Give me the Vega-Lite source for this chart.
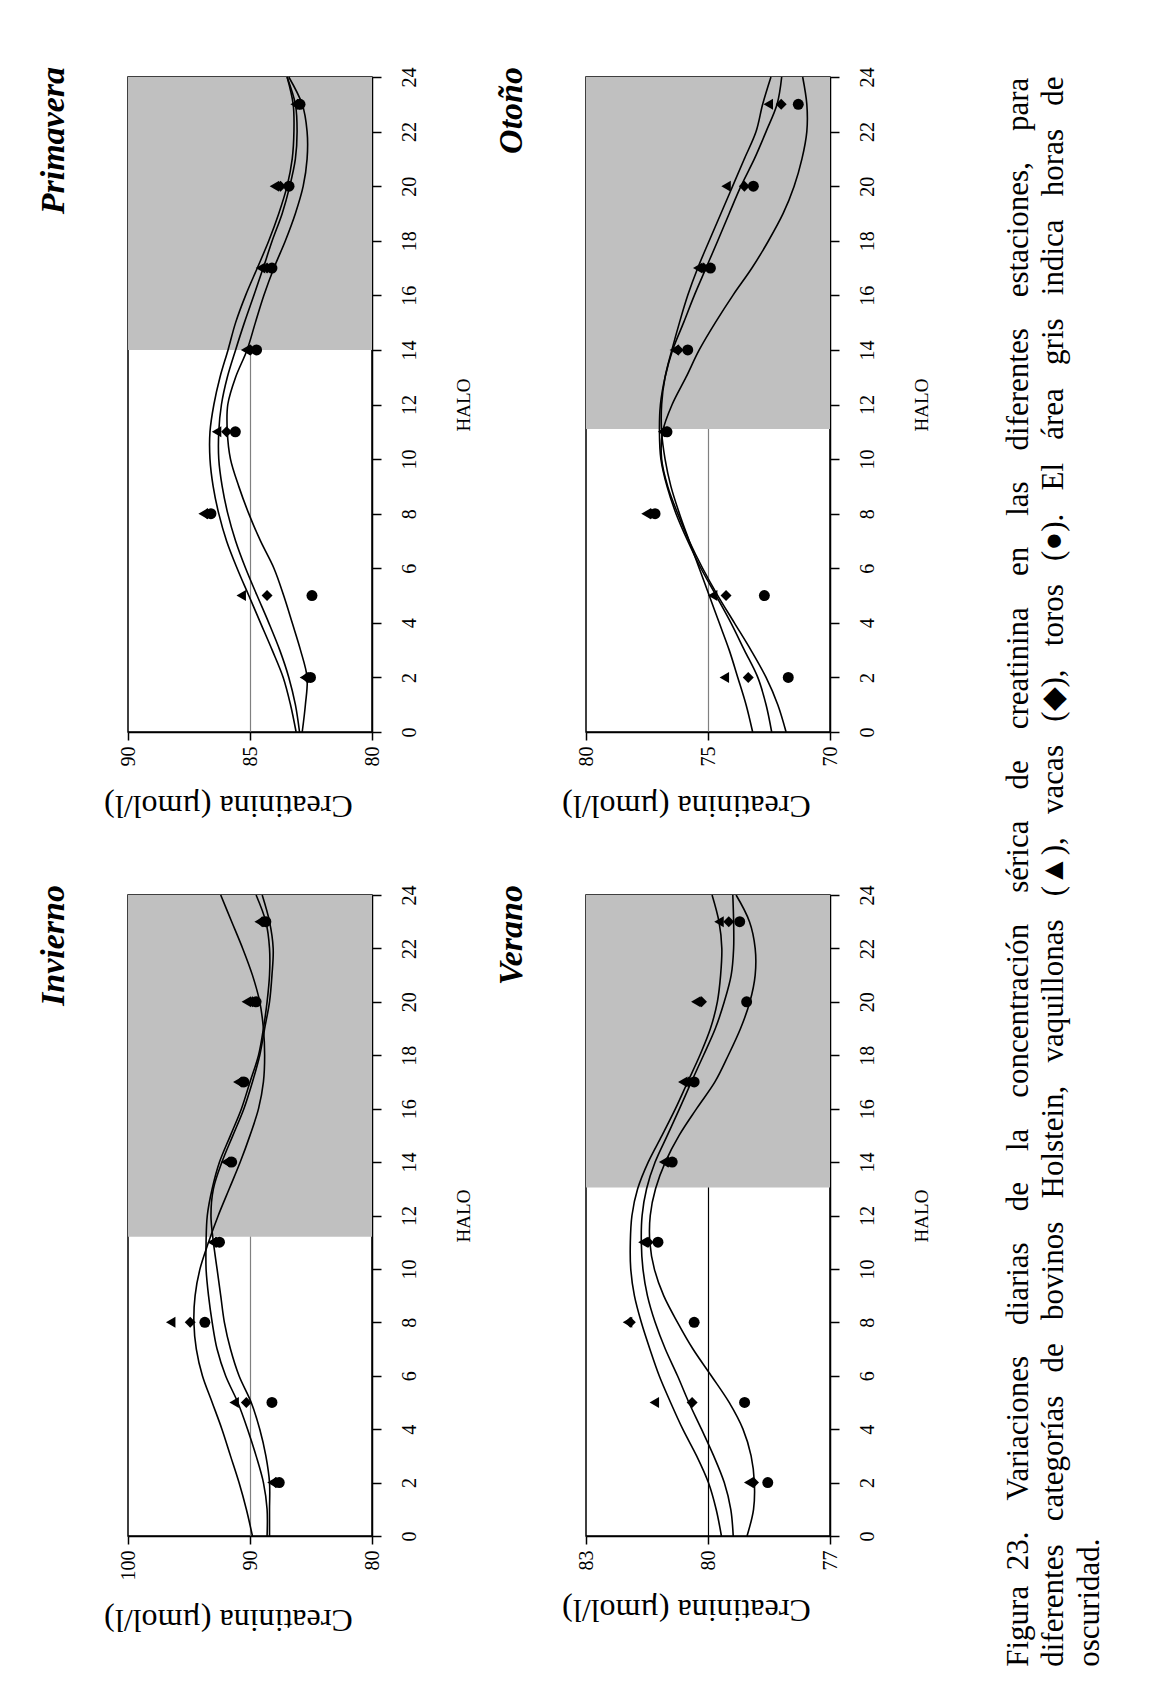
{
"$schema": "https://vega.github.io/schema/vega-lite/v6.json",
"background": "white",
"padding": {"left": 35, "top": 66, "right": 5, "bottom": 5},
"config": {"view": {"stroke": "black", "strokeWidth": 1.5}, "font": "Liberation Serif",
 "axisX": {"labelAngle": 270, "titleAngle": 180, "titleBaseline": "bottom", "grid": true, "gridWidth": 1.2, "zindex": 1, "tickSize": 8, "tickColor": "black", "tickWidth": 1.5, "domainColor": "black", "domainWidth": 1.5, "labelFont": "Liberation Serif", "labelFontSize": 20, "labelColor": "black", "labelPadding": 6, "titleFont": "Liberation Serif", "titleFontSize": 32, "titleFontWeight": "normal", "titleColor": "black", "titlePadding": 22},
 "axisY": {"labelAngle": 270, "titleAngle": 270, "grid": false, "tickSize": 9, "tickColor": "black", "tickWidth": 1.5, "domainColor": "black", "domainWidth": 1.5, "labelFont": "Liberation Serif", "labelFontSize": 20, "labelColor": "black", "labelPadding": 18, "titleFont": "Liberation Serif", "titleFontSize": 19, "titleFontWeight": "normal", "titleColor": "black", "titlePadding": 54}
},
"title": {"text": ["Figura\u00a0\u00a023.\u00a0\u00a0\u00a0\u00a0Variaciones\u00a0\u00a0\u00a0\u00a0diarias\u00a0\u00a0\u00a0\u00a0de\u00a0\u00a0\u00a0\u00a0la\u00a0\u00a0\u00a0\u00a0concentración\u00a0\u00a0\u00a0\u00a0sérica\u00a0\u00a0\u00a0\u00a0de\u00a0\u00a0\u00a0\u00a0creatinina\u00a0\u00a0\u00a0\u00a0en\u00a0\u00a0\u00a0\u00a0las\u00a0\u00a0\u00a0\u00a0diferentes\u00a0\u00a0\u00a0\u00a0estaciones,\u00a0\u00a0\u00a0\u00a0para", "diferentes\u00a0\u00a0\u00a0categorías\u00a0\u00a0\u00a0de\u00a0\u00a0\u00a0bovinos\u00a0\u00a0\u00a0Holstein,\u00a0\u00a0\u00a0vaquillonas\u00a0\u00a0\u00a0(▲),\u00a0\u00a0\u00a0vacas\u00a0\u00a0\u00a0(◆),\u00a0\u00a0\u00a0toros\u00a0\u00a0\u00a0(●).\u00a0\u00a0\u00a0El\u00a0\u00a0\u00a0área\u00a0\u00a0\u00a0gris\u00a0\u00a0\u00a0indica\u00a0\u00a0\u00a0horas\u00a0\u00a0\u00a0de", "oscuridad."], "orient": "right", "anchor": "end", "angle": 270, "align": "left", "baseline": "top", "font": "Liberation Serif", "fontSize": 31, "fontWeight": "normal", "color": "black", "lineHeight": 35.5, "offset": -30, "dx": -31},
"datasets": {
"dark": [
{"s": "Primavera", "h": 14, "h_end": 24, "v": 80, "v_end": 90},
{"s": "Invierno", "h": 11.2, "h_end": 24, "v": 80, "v_end": 100},
{"s": "Otoño", "h": 11.1, "h_end": 24, "v": 70, "v_end": 80},
{"s": "Verano", "h": 13.05, "h_end": 24, "v": 77, "v_end": 83}
],
"points": [
{"s":"Primavera","cat":"vaquillonas","h":2,"v":82.77},{"s":"Primavera","cat":"vacas","h":2,"v":82.66},{"s":"Primavera","cat":"toros","h":2,"v":82.52},
{"s":"Primavera","cat":"vaquillonas","h":5,"v":85.36},{"s":"Primavera","cat":"vacas","h":5,"v":84.3},{"s":"Primavera","cat":"toros","h":5,"v":82.46},
{"s":"Primavera","cat":"vaquillonas","h":8,"v":86.92},{"s":"Primavera","cat":"vacas","h":8,"v":86.75},{"s":"Primavera","cat":"toros","h":8,"v":86.6},
{"s":"Primavera","cat":"vaquillonas","h":11,"v":86.37},{"s":"Primavera","cat":"vacas","h":11,"v":85.96},{"s":"Primavera","cat":"toros","h":11,"v":85.6},
{"s":"Primavera","cat":"vaquillonas","h":14,"v":85.18},{"s":"Primavera","cat":"vacas","h":14,"v":84.98},{"s":"Primavera","cat":"toros","h":14,"v":84.73},
{"s":"Primavera","cat":"vaquillonas","h":17,"v":84.57},{"s":"Primavera","cat":"vacas","h":17,"v":84.3},{"s":"Primavera","cat":"toros","h":17,"v":84.1},
{"s":"Primavera","cat":"vaquillonas","h":20,"v":84.0},{"s":"Primavera","cat":"vacas","h":20,"v":83.75},{"s":"Primavera","cat":"toros","h":20,"v":83.4},
{"s":"Primavera","cat":"vaquillonas","h":23,"v":83.15},{"s":"Primavera","cat":"vacas","h":23,"v":83.05},{"s":"Primavera","cat":"toros","h":23,"v":82.95},
{"s":"Invierno","cat":"vaquillonas","h":2,"v":88.2},{"s":"Invierno","cat":"vacas","h":2,"v":87.9},{"s":"Invierno","cat":"toros","h":2,"v":87.6},
{"s":"Invierno","cat":"vaquillonas","h":5,"v":91.3},{"s":"Invierno","cat":"vacas","h":5,"v":90.3},{"s":"Invierno","cat":"toros","h":5,"v":88.2},
{"s":"Invierno","cat":"vaquillonas","h":8,"v":96.5},{"s":"Invierno","cat":"vacas","h":8,"v":94.9},{"s":"Invierno","cat":"toros","h":8,"v":93.7},
{"s":"Invierno","cat":"vaquillonas","h":11,"v":93.1},{"s":"Invierno","cat":"vacas","h":11,"v":92.8},{"s":"Invierno","cat":"toros","h":11,"v":92.5},
{"s":"Invierno","cat":"vaquillonas","h":14,"v":92.0},{"s":"Invierno","cat":"vacas","h":14,"v":91.7},{"s":"Invierno","cat":"toros","h":14,"v":91.5},
{"s":"Invierno","cat":"vaquillonas","h":17,"v":91.0},{"s":"Invierno","cat":"vacas","h":17,"v":90.7},{"s":"Invierno","cat":"toros","h":17,"v":90.5},
{"s":"Invierno","cat":"vaquillonas","h":20,"v":90.3},{"s":"Invierno","cat":"vacas","h":20,"v":89.8},{"s":"Invierno","cat":"toros","h":20,"v":89.5},
{"s":"Invierno","cat":"vaquillonas","h":23,"v":89.25},{"s":"Invierno","cat":"vacas","h":23,"v":89.0},{"s":"Invierno","cat":"toros","h":23,"v":88.7},
{"s":"Otoño","cat":"vaquillonas","h":2,"v":74.33},{"s":"Otoño","cat":"vacas","h":2,"v":73.35},{"s":"Otoño","cat":"toros","h":2,"v":71.71},
{"s":"Otoño","cat":"vaquillonas","h":5,"v":74.81},{"s":"Otoño","cat":"vacas","h":5,"v":74.26},{"s":"Otoño","cat":"toros","h":5,"v":72.69},
{"s":"Otoño","cat":"vaquillonas","h":8,"v":77.54},{"s":"Otoño","cat":"vacas","h":8,"v":77.34},{"s":"Otoño","cat":"toros","h":8,"v":77.17},
{"s":"Otoño","cat":"vaquillonas","h":11,"v":76.86},{"s":"Otoño","cat":"vacas","h":11,"v":76.79},{"s":"Otoño","cat":"toros","h":11,"v":76.68},
{"s":"Otoño","cat":"vaquillonas","h":14,"v":76.38},{"s":"Otoño","cat":"vacas","h":14,"v":76.22},{"s":"Otoño","cat":"toros","h":14,"v":75.83},
{"s":"Otoño","cat":"vaquillonas","h":17,"v":75.42},{"s":"Otoño","cat":"vacas","h":17,"v":75.18},{"s":"Otoño","cat":"toros","h":17,"v":74.9},
{"s":"Otoño","cat":"vaquillonas","h":20,"v":74.26},{"s":"Otoño","cat":"vacas","h":20,"v":73.51},{"s":"Otoño","cat":"toros","h":20,"v":73.14},
{"s":"Otoño","cat":"vaquillonas","h":23,"v":72.53},{"s":"Otoño","cat":"vacas","h":23,"v":72.0},{"s":"Otoño","cat":"toros","h":23,"v":71.3},
{"s":"Verano","cat":"vaquillonas","h":2,"v":79.0},{"s":"Verano","cat":"vacas","h":2,"v":78.88},{"s":"Verano","cat":"toros","h":2,"v":78.53},
{"s":"Verano","cat":"vaquillonas","h":5,"v":81.32},{"s":"Verano","cat":"vacas","h":5,"v":80.39},{"s":"Verano","cat":"toros","h":5,"v":79.1},
{"s":"Verano","cat":"vaquillonas","h":8,"v":81.98},{"s":"Verano","cat":"vacas","h":8,"v":81.91},{"s":"Verano","cat":"toros","h":8,"v":80.34},
{"s":"Verano","cat":"vaquillonas","h":11,"v":81.6},{"s":"Verano","cat":"vacas","h":11,"v":81.47},{"s":"Verano","cat":"toros","h":11,"v":81.23},
{"s":"Verano","cat":"vaquillonas","h":14,"v":81.09},{"s":"Verano","cat":"vacas","h":14,"v":80.98},{"s":"Verano","cat":"toros","h":14,"v":80.88},
{"s":"Verano","cat":"vaquillonas","h":17,"v":80.62},{"s":"Verano","cat":"vacas","h":17,"v":80.47},{"s":"Verano","cat":"toros","h":17,"v":80.34},
{"s":"Verano","cat":"vaquillonas","h":20,"v":80.3},{"s":"Verano","cat":"vacas","h":20,"v":80.16},{"s":"Verano","cat":"toros","h":20,"v":79.05},
{"s":"Verano","cat":"vaquillonas","h":23,"v":79.73},{"s":"Verano","cat":"vacas","h":23,"v":79.49},{"s":"Verano","cat":"toros","h":23,"v":79.22}
],
"curves": [
{"s":"Primavera","c":1,"h":0,"v":83.11},{"s":"Primavera","c":1,"h":1,"v":83.34},{"s":"Primavera","c":1,"h":2,"v":83.64},{"s":"Primavera","c":1,"h":3,"v":84.09},{"s":"Primavera","c":1,"h":4,"v":84.57},{"s":"Primavera","c":1,"h":5,"v":85.05},{"s":"Primavera","c":1,"h":6,"v":85.53},{"s":"Primavera","c":1,"h":7,"v":85.96},{"s":"Primavera","c":1,"h":8,"v":86.28},{"s":"Primavera","c":1,"h":9,"v":86.51},{"s":"Primavera","c":1,"h":10,"v":86.64},{"s":"Primavera","c":1,"h":11,"v":86.64},{"s":"Primavera","c":1,"h":12,"v":86.48},{"s":"Primavera","c":1,"h":13,"v":86.23},{"s":"Primavera","c":1,"h":14,"v":85.9},{"s":"Primavera","c":1,"h":15,"v":85.59},{"s":"Primavera","c":1,"h":16,"v":85.18},{"s":"Primavera","c":1,"h":17,"v":84.7},{"s":"Primavera","c":1,"h":18,"v":84.23},{"s":"Primavera","c":1,"h":19,"v":83.82},{"s":"Primavera","c":1,"h":20,"v":83.48},{"s":"Primavera","c":1,"h":21,"v":83.27},{"s":"Primavera","c":1,"h":22,"v":83.2},{"s":"Primavera","c":1,"h":23,"v":83.23},{"s":"Primavera","c":1,"h":24,"v":83.48},
{"s":"Primavera","c":2,"h":0,"v":82.97},{"s":"Primavera","c":2,"h":1,"v":83.14},{"s":"Primavera","c":2,"h":2,"v":83.41},{"s":"Primavera","c":2,"h":3,"v":83.78},{"s":"Primavera","c":2,"h":4,"v":84.23},{"s":"Primavera","c":2,"h":5,"v":84.71},{"s":"Primavera","c":2,"h":6,"v":85.18},{"s":"Primavera","c":2,"h":7,"v":85.59},{"s":"Primavera","c":2,"h":8,"v":85.91},{"s":"Primavera","c":2,"h":9,"v":86.14},{"s":"Primavera","c":2,"h":10,"v":86.28},{"s":"Primavera","c":2,"h":11,"v":86.28},{"s":"Primavera","c":2,"h":12,"v":86.17},{"s":"Primavera","c":2,"h":13,"v":85.93},{"s":"Primavera","c":2,"h":14,"v":85.59},{"s":"Primavera","c":2,"h":15,"v":85.23},{"s":"Primavera","c":2,"h":16,"v":84.84},{"s":"Primavera","c":2,"h":17,"v":84.46},{"s":"Primavera","c":2,"h":18,"v":84.09},{"s":"Primavera","c":2,"h":19,"v":83.68},{"s":"Primavera","c":2,"h":20,"v":83.37},{"s":"Primavera","c":2,"h":21,"v":83.14},{"s":"Primavera","c":2,"h":22,"v":83.07},{"s":"Primavera","c":2,"h":23,"v":83.14},{"s":"Primavera","c":2,"h":24,"v":83.48},
{"s":"Primavera","c":3,"h":0,"v":82.86},{"s":"Primavera","c":3,"h":1,"v":82.73},{"s":"Primavera","c":3,"h":2,"v":82.66},{"s":"Primavera","c":3,"h":3,"v":82.93},{"s":"Primavera","c":3,"h":4,"v":83.27},{"s":"Primavera","c":3,"h":5,"v":83.62},{"s":"Primavera","c":3,"h":6,"v":84.02},{"s":"Primavera","c":3,"h":7,"v":84.57},{"s":"Primavera","c":3,"h":8,"v":85.05},{"s":"Primavera","c":3,"h":9,"v":85.46},{"s":"Primavera","c":3,"h":10,"v":85.8},{"s":"Primavera","c":3,"h":11,"v":85.93},{"s":"Primavera","c":3,"h":12,"v":85.91},{"s":"Primavera","c":3,"h":13,"v":85.59},{"s":"Primavera","c":3,"h":14,"v":85.12},{"s":"Primavera","c":3,"h":15,"v":84.78},{"s":"Primavera","c":3,"h":16,"v":84.43},{"s":"Primavera","c":3,"h":17,"v":84.02},{"s":"Primavera","c":3,"h":18,"v":83.55},{"s":"Primavera","c":3,"h":19,"v":83.14},{"s":"Primavera","c":3,"h":20,"v":82.82},{"s":"Primavera","c":3,"h":21,"v":82.66},{"s":"Primavera","c":3,"h":22,"v":82.66},{"s":"Primavera","c":3,"h":23,"v":82.86},{"s":"Primavera","c":3,"h":24,"v":83.41},
{"s":"Invierno","c":1,"h":0,"v":89.8},{"s":"Invierno","c":1,"h":1,"v":90.3},{"s":"Invierno","c":1,"h":2,"v":90.9},{"s":"Invierno","c":1,"h":3,"v":91.6},{"s":"Invierno","c":1,"h":4,"v":92.3},{"s":"Invierno","c":1,"h":5,"v":93.1},{"s":"Invierno","c":1,"h":6,"v":93.9},{"s":"Invierno","c":1,"h":7,"v":94.4},{"s":"Invierno","c":1,"h":8,"v":94.6},{"s":"Invierno","c":1,"h":9,"v":94.5},{"s":"Invierno","c":1,"h":10,"v":94.1},{"s":"Invierno","c":1,"h":11,"v":93.4},{"s":"Invierno","c":1,"h":12,"v":92.6},{"s":"Invierno","c":1,"h":13,"v":91.7},{"s":"Invierno","c":1,"h":14,"v":90.8},{"s":"Invierno","c":1,"h":15,"v":90.0},{"s":"Invierno","c":1,"h":16,"v":89.3},{"s":"Invierno","c":1,"h":17,"v":88.9},{"s":"Invierno","c":1,"h":18,"v":88.8},{"s":"Invierno","c":1,"h":19,"v":88.9},{"s":"Invierno","c":1,"h":20,"v":89.2},{"s":"Invierno","c":1,"h":21,"v":89.8},{"s":"Invierno","c":1,"h":22,"v":90.6},{"s":"Invierno","c":1,"h":23,"v":91.5},{"s":"Invierno","c":1,"h":24,"v":92.4},
{"s":"Invierno","c":2,"h":0,"v":88.6},{"s":"Invierno","c":2,"h":1,"v":88.6},{"s":"Invierno","c":2,"h":2,"v":88.9},{"s":"Invierno","c":2,"h":3,"v":89.5},{"s":"Invierno","c":2,"h":4,"v":90.2},{"s":"Invierno","c":2,"h":5,"v":91.0},{"s":"Invierno","c":2,"h":6,"v":92.0},{"s":"Invierno","c":2,"h":7,"v":92.7},{"s":"Invierno","c":2,"h":8,"v":93.1},{"s":"Invierno","c":2,"h":9,"v":93.4},{"s":"Invierno","c":2,"h":10,"v":93.6},{"s":"Invierno","c":2,"h":11,"v":93.6},{"s":"Invierno","c":2,"h":12,"v":93.5},{"s":"Invierno","c":2,"h":13,"v":93.1},{"s":"Invierno","c":2,"h":14,"v":92.5},{"s":"Invierno","c":2,"h":15,"v":91.6},{"s":"Invierno","c":2,"h":16,"v":90.7},{"s":"Invierno","c":2,"h":17,"v":90.0},{"s":"Invierno","c":2,"h":18,"v":89.3},{"s":"Invierno","c":2,"h":19,"v":88.9},{"s":"Invierno","c":2,"h":20,"v":88.6},{"s":"Invierno","c":2,"h":21,"v":88.4},{"s":"Invierno","c":2,"h":22,"v":88.4},{"s":"Invierno","c":2,"h":23,"v":88.7},{"s":"Invierno","c":2,"h":24,"v":89.5},
{"s":"Invierno","c":3,"h":0,"v":88.4},{"s":"Invierno","c":3,"h":1,"v":88.4},{"s":"Invierno","c":3,"h":2,"v":88.4},{"s":"Invierno","c":3,"h":3,"v":88.7},{"s":"Invierno","c":3,"h":4,"v":89.2},{"s":"Invierno","c":3,"h":5,"v":89.9},{"s":"Invierno","c":3,"h":6,"v":90.9},{"s":"Invierno","c":3,"h":7,"v":91.6},{"s":"Invierno","c":3,"h":8,"v":92.1},{"s":"Invierno","c":3,"h":9,"v":92.4},{"s":"Invierno","c":3,"h":10,"v":92.7},{"s":"Invierno","c":3,"h":11,"v":93.0},{"s":"Invierno","c":3,"h":12,"v":93.2},{"s":"Invierno","c":3,"h":13,"v":93.0},{"s":"Invierno","c":3,"h":14,"v":92.3},{"s":"Invierno","c":3,"h":15,"v":91.4},{"s":"Invierno","c":3,"h":16,"v":90.5},{"s":"Invierno","c":3,"h":17,"v":89.8},{"s":"Invierno","c":3,"h":18,"v":89.2},{"s":"Invierno","c":3,"h":19,"v":88.8},{"s":"Invierno","c":3,"h":20,"v":88.4},{"s":"Invierno","c":3,"h":21,"v":88.2},{"s":"Invierno","c":3,"h":22,"v":88.1},{"s":"Invierno","c":3,"h":23,"v":88.4},{"s":"Invierno","c":3,"h":24,"v":89.0},
{"s":"Otoño","c":1,"h":0,"v":73.17},{"s":"Otoño","c":1,"h":1,"v":73.44},{"s":"Otoño","c":1,"h":2,"v":73.78},{"s":"Otoño","c":1,"h":3,"v":74.13},{"s":"Otoño","c":1,"h":4,"v":74.54},{"s":"Otoño","c":1,"h":5,"v":74.95},{"s":"Otoño","c":1,"h":6,"v":75.36},{"s":"Otoño","c":1,"h":7,"v":75.77},{"s":"Otoño","c":1,"h":8,"v":76.17},{"s":"Otoño","c":1,"h":9,"v":76.52},{"s":"Otoño","c":1,"h":10,"v":76.76},{"s":"Otoño","c":1,"h":11,"v":76.9},{"s":"Otoño","c":1,"h":12,"v":76.9},{"s":"Otoño","c":1,"h":13,"v":76.76},{"s":"Otoño","c":1,"h":14,"v":76.48},{"s":"Otoño","c":1,"h":15,"v":76.17},{"s":"Otoño","c":1,"h":16,"v":75.83},{"s":"Otoño","c":1,"h":17,"v":75.42},{"s":"Otoño","c":1,"h":18,"v":74.95},{"s":"Otoño","c":1,"h":19,"v":74.47},{"s":"Otoño","c":1,"h":20,"v":73.99},{"s":"Otoño","c":1,"h":21,"v":73.51},{"s":"Otoño","c":1,"h":22,"v":73.03},{"s":"Otoño","c":1,"h":23,"v":72.76},{"s":"Otoño","c":1,"h":24,"v":72.42},
{"s":"Otoño","c":2,"h":0,"v":72.39},{"s":"Otoño","c":2,"h":1,"v":72.62},{"s":"Otoño","c":2,"h":2,"v":72.96},{"s":"Otoño","c":2,"h":3,"v":73.51},{"s":"Otoño","c":2,"h":4,"v":74.06},{"s":"Otoño","c":2,"h":5,"v":74.67},{"s":"Otoño","c":2,"h":6,"v":75.29},{"s":"Otoño","c":2,"h":7,"v":75.83},{"s":"Otoño","c":2,"h":8,"v":76.31},{"s":"Otoño","c":2,"h":9,"v":76.68},{"s":"Otoño","c":2,"h":10,"v":76.93},{"s":"Otoño","c":2,"h":11,"v":76.99},{"s":"Otoño","c":2,"h":12,"v":76.95},{"s":"Otoño","c":2,"h":13,"v":76.76},{"s":"Otoño","c":2,"h":14,"v":76.45},{"s":"Otoño","c":2,"h":15,"v":76.0},{"s":"Otoño","c":2,"h":16,"v":75.56},{"s":"Otoño","c":2,"h":17,"v":75.08},{"s":"Otoño","c":2,"h":18,"v":74.6},{"s":"Otoño","c":2,"h":19,"v":74.13},{"s":"Otoño","c":2,"h":20,"v":73.65},{"s":"Otoño","c":2,"h":21,"v":73.1},{"s":"Otoño","c":2,"h":22,"v":72.62},{"s":"Otoño","c":2,"h":23,"v":72.17},{"s":"Otoño","c":2,"h":24,"v":71.98},
{"s":"Otoño","c":3,"h":0,"v":71.8},{"s":"Otoño","c":3,"h":1,"v":72.14},{"s":"Otoño","c":3,"h":2,"v":72.62},{"s":"Otoño","c":3,"h":3,"v":73.24},{"s":"Otoño","c":3,"h":4,"v":73.92},{"s":"Otoño","c":3,"h":5,"v":74.6},{"s":"Otoño","c":3,"h":6,"v":75.22},{"s":"Otoño","c":3,"h":7,"v":75.77},{"s":"Otoño","c":3,"h":8,"v":76.24},{"s":"Otoño","c":3,"h":9,"v":76.65},{"s":"Otoño","c":3,"h":10,"v":76.9},{"s":"Otoño","c":3,"h":11,"v":76.86},{"s":"Otoño","c":3,"h":12,"v":76.47},{"s":"Otoño","c":3,"h":13,"v":75.9},{"s":"Otoño","c":3,"h":14,"v":75.36},{"s":"Otoño","c":3,"h":15,"v":74.7},{"s":"Otoño","c":3,"h":16,"v":73.98},{"s":"Otoño","c":3,"h":17,"v":73.2},{"s":"Otoño","c":3,"h":18,"v":72.52},{"s":"Otoño","c":3,"h":19,"v":71.92},{"s":"Otoño","c":3,"h":20,"v":71.47},{"s":"Otoño","c":3,"h":21,"v":71.15},{"s":"Otoño","c":3,"h":22,"v":70.95},{"s":"Otoño","c":3,"h":23,"v":70.95},{"s":"Otoño","c":3,"h":24,"v":71.12},
{"s":"Verano","c":1,"h":0,"v":79.67},{"s":"Verano","c":1,"h":1,"v":79.8},{"s":"Verano","c":1,"h":2,"v":79.99},{"s":"Verano","c":1,"h":3,"v":80.28},{"s":"Verano","c":1,"h":4,"v":80.62},{"s":"Verano","c":1,"h":5,"v":80.92},{"s":"Verano","c":1,"h":6,"v":81.2},{"s":"Verano","c":1,"h":7,"v":81.43},{"s":"Verano","c":1,"h":8,"v":81.64},{"s":"Verano","c":1,"h":9,"v":81.81},{"s":"Verano","c":1,"h":10,"v":81.9},{"s":"Verano","c":1,"h":11,"v":81.91},{"s":"Verano","c":1,"h":12,"v":81.87},{"s":"Verano","c":1,"h":13,"v":81.73},{"s":"Verano","c":1,"h":14,"v":81.47},{"s":"Verano","c":1,"h":15,"v":81.13},{"s":"Verano","c":1,"h":16,"v":80.8},{"s":"Verano","c":1,"h":17,"v":80.5},{"s":"Verano","c":1,"h":18,"v":80.2},{"s":"Verano","c":1,"h":19,"v":79.94},{"s":"Verano","c":1,"h":20,"v":79.77},{"s":"Verano","c":1,"h":21,"v":79.69},{"s":"Verano","c":1,"h":22,"v":79.66},{"s":"Verano","c":1,"h":23,"v":79.73},{"s":"Verano","c":1,"h":24,"v":79.9},
{"s":"Verano","c":2,"h":0,"v":79.38},{"s":"Verano","c":2,"h":1,"v":79.44},{"s":"Verano","c":2,"h":2,"v":79.6},{"s":"Verano","c":2,"h":3,"v":79.86},{"s":"Verano","c":2,"h":4,"v":80.16},{"s":"Verano","c":2,"h":5,"v":80.47},{"s":"Verano","c":2,"h":6,"v":80.75},{"s":"Verano","c":2,"h":7,"v":81.05},{"s":"Verano","c":2,"h":8,"v":81.3},{"s":"Verano","c":2,"h":9,"v":81.49},{"s":"Verano","c":2,"h":10,"v":81.6},{"s":"Verano","c":2,"h":11,"v":81.64},{"s":"Verano","c":2,"h":12,"v":81.62},{"s":"Verano","c":2,"h":13,"v":81.51},{"s":"Verano","c":2,"h":14,"v":81.3},{"s":"Verano","c":2,"h":15,"v":81.0},{"s":"Verano","c":2,"h":16,"v":80.7},{"s":"Verano","c":2,"h":17,"v":80.41},{"s":"Verano","c":2,"h":18,"v":80.11},{"s":"Verano","c":2,"h":19,"v":79.82},{"s":"Verano","c":2,"h":20,"v":79.6},{"s":"Verano","c":2,"h":21,"v":79.43},{"s":"Verano","c":2,"h":22,"v":79.37},{"s":"Verano","c":2,"h":23,"v":79.37},{"s":"Verano","c":2,"h":24,"v":79.39},
{"s":"Verano","c":3,"h":0,"v":79.04},{"s":"Verano","c":3,"h":1,"v":78.88},{"s":"Verano","c":3,"h":2,"v":78.86},{"s":"Verano","c":3,"h":3,"v":78.94},{"s":"Verano","c":3,"h":4,"v":79.14},{"s":"Verano","c":3,"h":5,"v":79.48},{"s":"Verano","c":3,"h":6,"v":79.92},{"s":"Verano","c":3,"h":7,"v":80.37},{"s":"Verano","c":3,"h":8,"v":80.75},{"s":"Verano","c":3,"h":9,"v":81.09},{"s":"Verano","c":3,"h":10,"v":81.32},{"s":"Verano","c":3,"h":11,"v":81.43},{"s":"Verano","c":3,"h":12,"v":81.42},{"s":"Verano","c":3,"h":13,"v":81.29},{"s":"Verano","c":3,"h":14,"v":81.05},{"s":"Verano","c":3,"h":15,"v":80.71},{"s":"Verano","c":3,"h":16,"v":80.28},{"s":"Verano","c":3,"h":17,"v":79.83},{"s":"Verano","c":3,"h":18,"v":79.5},{"s":"Verano","c":3,"h":19,"v":79.2},{"s":"Verano","c":3,"h":20,"v":78.97},{"s":"Verano","c":3,"h":21,"v":78.84},{"s":"Verano","c":3,"h":22,"v":78.84},{"s":"Verano","c":3,"h":23,"v":78.98},{"s":"Verano","c":3,"h":24,"v":79.31}
]
},
"spacing": 19,
"hconcat": [
{"spacing": 62, "vconcat": [
{"width": 244, "height": 655,
 "title": {"text": "Primavera", "orient": "left", "anchor": "end", "offset": 33, "font": "Liberation Serif", "fontSize": 34, "fontStyle": "italic", "fontWeight": "bold", "color": "black"},
 "encoding": {
  "x": {"field": "v", "type": "quantitative", "scale": {"domain": [80, 90], "reverse": true, "nice": false, "zero": false}, "axis": {"orient": "bottom", "values": [80, 85, 90], "title": "Creatinina (µmol/l)", "titleX": 100, "gridColor": {"condition": {"test": "datum.value === 85", "value": "#808080"}, "value": "transparent"}}},
  "y": {"field": "h", "type": "quantitative", "scale": {"domain": [0, 24], "nice": false, "zero": false}, "axis": {"orient": "right", "values": [0, 2, 4, 6, 8, 10, 12, 14, 16, 18, 20, 22, 24], "title": "HALO"}}
 },
 "layer": [
  {"data": {"name": "dark"}, "transform": [{"filter": {"field": "s", "equal": "Primavera"}}], "mark": {"type": "rect", "color": "#c0c0c0"}, "encoding": {"x2": {"field": "v_end"}, "y2": {"field": "h_end"}}},
  {"data": {"name": "curves"}, "transform": [{"filter": {"field": "s", "equal": "Primavera"}}], "mark": {"type": "line", "color": "black", "strokeWidth": 1.6, "interpolate": "cardinal"}, "encoding": {"detail": {"field": "c", "type": "nominal"}, "order": {"field": "h", "type": "quantitative"}}},
  {"data": {"name": "points"}, "transform": [{"filter": {"field": "s", "equal": "Primavera"}}], "mark": {"type": "point", "filled": true, "color": "black", "opacity": 1, "size": 120}, "encoding": {"shape": {"field": "cat", "type": "nominal", "scale": {"domain": ["vaquillonas", "vacas", "toros"], "range": ["triangle-left", "diamond", "circle"]}, "legend": null}}}
 ]
},
{"width": 244, "height": 641,
 "title": {"text": "Invierno", "orient": "left", "anchor": "end", "offset": 33, "font": "Liberation Serif", "fontSize": 34, "fontStyle": "italic", "fontWeight": "bold", "color": "black"},
 "encoding": {
  "x": {"field": "v", "type": "quantitative", "scale": {"domain": [80, 100], "reverse": true, "nice": false, "zero": false}, "axis": {"orient": "bottom", "values": [80, 90, 100], "title": "Creatinina (µmol/l)", "titleX": 100, "gridColor": {"condition": {"test": "datum.value === 90", "value": "#808080"}, "value": "transparent"}}},
  "y": {"field": "h", "type": "quantitative", "scale": {"domain": [0, 24], "nice": false, "zero": false}, "axis": {"orient": "right", "values": [0, 2, 4, 6, 8, 10, 12, 14, 16, 18, 20, 22, 24], "title": "HALO"}}
 },
 "layer": [
  {"data": {"name": "dark"}, "transform": [{"filter": {"field": "s", "equal": "Invierno"}}], "mark": {"type": "rect", "color": "#c0c0c0"}, "encoding": {"x2": {"field": "v_end"}, "y2": {"field": "h_end"}}},
  {"data": {"name": "curves"}, "transform": [{"filter": {"field": "s", "equal": "Invierno"}}], "mark": {"type": "line", "color": "black", "strokeWidth": 1.6, "interpolate": "cardinal"}, "encoding": {"detail": {"field": "c", "type": "nominal"}, "order": {"field": "h", "type": "quantitative"}}},
  {"data": {"name": "points"}, "transform": [{"filter": {"field": "s", "equal": "Invierno"}}], "mark": {"type": "point", "filled": true, "color": "black", "opacity": 1, "size": 120}, "encoding": {"shape": {"field": "cat", "type": "nominal", "scale": {"domain": ["vaquillonas", "vacas", "toros"], "range": ["triangle-left", "diamond", "circle"]}, "legend": null}}}
 ]
}
]},
{"spacing": 62, "vconcat": [
{"width": 244, "height": 655,
 "title": {"text": "Otoño", "orient": "left", "anchor": "end", "offset": 33, "font": "Liberation Serif", "fontSize": 34, "fontStyle": "italic", "fontWeight": "bold", "color": "black"},
 "encoding": {
  "x": {"field": "v", "type": "quantitative", "scale": {"domain": [70, 80], "reverse": true, "nice": false, "zero": false}, "axis": {"orient": "bottom", "values": [70, 75, 80], "title": "Creatinina (µmol/l)", "titleX": 100, "gridColor": {"condition": {"test": "datum.value === 75", "value": "#808080"}, "value": "transparent"}}},
  "y": {"field": "h", "type": "quantitative", "scale": {"domain": [0, 24], "nice": false, "zero": false}, "axis": {"orient": "right", "values": [0, 2, 4, 6, 8, 10, 12, 14, 16, 18, 20, 22, 24], "title": "HALO"}}
 },
 "layer": [
  {"data": {"name": "dark"}, "transform": [{"filter": {"field": "s", "equal": "Otoño"}}], "mark": {"type": "rect", "color": "#c0c0c0"}, "encoding": {"x2": {"field": "v_end"}, "y2": {"field": "h_end"}}},
  {"data": {"name": "curves"}, "transform": [{"filter": {"field": "s", "equal": "Otoño"}}], "mark": {"type": "line", "color": "black", "strokeWidth": 1.6, "interpolate": "cardinal"}, "encoding": {"detail": {"field": "c", "type": "nominal"}, "order": {"field": "h", "type": "quantitative"}}},
  {"data": {"name": "points"}, "transform": [{"filter": {"field": "s", "equal": "Otoño"}}], "mark": {"type": "point", "filled": true, "color": "black", "opacity": 1, "size": 120}, "encoding": {"shape": {"field": "cat", "type": "nominal", "scale": {"domain": ["vaquillonas", "vacas", "toros"], "range": ["triangle-left", "diamond", "circle"]}, "legend": null}}}
 ]
},
{"width": 244, "height": 641,
 "title": {"text": "Verano", "orient": "left", "anchor": "end", "offset": 33, "font": "Liberation Serif", "fontSize": 34, "fontStyle": "italic", "fontWeight": "bold", "color": "black"},
 "encoding": {
  "x": {"field": "v", "type": "quantitative", "scale": {"domain": [77, 83], "reverse": true, "nice": false, "zero": false}, "axis": {"orient": "bottom", "values": [77, 80, 83], "title": "Creatinina (µmol/l)", "titleX": 100, "gridColor": {"condition": {"test": "datum.value === 80", "value": "black"}, "value": "transparent"}}},
  "y": {"field": "h", "type": "quantitative", "scale": {"domain": [0, 24], "nice": false, "zero": false}, "axis": {"orient": "right", "values": [0, 2, 4, 6, 8, 10, 12, 14, 16, 18, 20, 22, 24], "title": "HALO"}}
 },
 "layer": [
  {"data": {"name": "dark"}, "transform": [{"filter": {"field": "s", "equal": "Verano"}}], "mark": {"type": "rect", "color": "#c0c0c0"}, "encoding": {"x2": {"field": "v_end"}, "y2": {"field": "h_end"}}},
  {"data": {"name": "curves"}, "transform": [{"filter": {"field": "s", "equal": "Verano"}}], "mark": {"type": "line", "color": "black", "strokeWidth": 1.6, "interpolate": "cardinal"}, "encoding": {"detail": {"field": "c", "type": "nominal"}, "order": {"field": "h", "type": "quantitative"}}},
  {"data": {"name": "points"}, "transform": [{"filter": {"field": "s", "equal": "Verano"}}], "mark": {"type": "point", "filled": true, "color": "black", "opacity": 1, "size": 120}, "encoding": {"shape": {"field": "cat", "type": "nominal", "scale": {"domain": ["vaquillonas", "vacas", "toros"], "range": ["triangle-left", "diamond", "circle"]}, "legend": null}}}
 ]
}
]}
]
}
